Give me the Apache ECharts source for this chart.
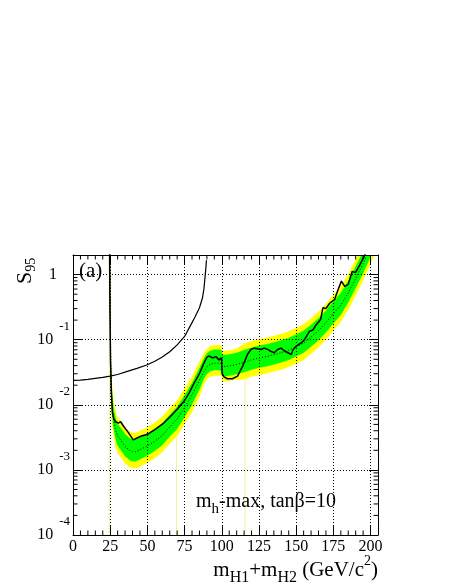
<!DOCTYPE html>
<html>
<head>
<meta charset="utf-8">
<script src="https://cdn.jsdelivr.net/npm/echarts@6/dist/echarts.min.js"></script>
<style>
  html, body { margin: 0; padding: 0; background: #fff; }
  #main { width: 454px; height: 588px; }
</style>
</head>
<body>
<div id="main"></div>
<script>
// all y values below are log10(S95)
const bandX = [24.7, 25, 25.5, 26, 27, 28.5, 30, 32, 35, 38, 40, 42, 45, 50, 55, 60, 65, 70, 75, 80,
    85, 88, 90, 92, 95, 98, 99.9, 100.1, 103, 106, 110, 115, 120, 125, 130, 135, 140, 145, 150, 155,
    160, 165, 170, 175, 180, 185, 190, 195, 200, 205];
const medianLog = [0.5, -0.3, -1.6, -1.92, -2.18, -2.38, -2.48, -2.54, -2.64, -2.70, -2.72, -2.72, -2.69, -2.63, -2.56, -2.47, -2.34, -2.22, -2.04, -1.85,
    -1.62, -1.49, -1.42, -1.38, -1.36, -1.36, -1.37, -1.41, -1.41, -1.40, -1.38, -1.35, -1.31, -1.28, -1.26, -1.23, -1.20, -1.16, -1.11, -1.05,
    -0.96, -0.86, -0.74, -0.60, -0.47, -0.28, -0.06, 0.17, 0.42, 0.7];
const greenHi = [0.7, 0.1, -1.3, -1.7, -1.99, -2.19, -2.29, -2.35, -2.45, -2.51, -2.53, -2.53, -2.50, -2.44, -2.37, -2.28, -2.15, -2.03, -1.85, -1.66,
    -1.43, -1.28, -1.21, -1.17, -1.15, -1.15, -1.16, -1.23, -1.23, -1.22, -1.20, -1.16, -1.12, -1.09, -1.07, -1.04, -1.01, -0.97, -0.92, -0.86,
    -0.77, -0.67, -0.55, -0.41, -0.28, -0.09, 0.13, 0.36, 0.61, 0.89];
const greenLo = [0.5, -0.6, -1.8, -2.1, -2.33, -2.53, -2.63, -2.69, -2.79, -2.85, -2.87, -2.87, -2.84, -2.78, -2.71, -2.62, -2.49, -2.37, -2.19, -2.00,
    -1.77, -1.60, -1.53, -1.49, -1.47, -1.47, -1.48, -1.56, -1.56, -1.55, -1.53, -1.50, -1.46, -1.43, -1.41, -1.38, -1.35, -1.31, -1.26, -1.20,
    -1.11, -1.01, -0.89, -0.75, -0.62, -0.43, -0.21, 0.02, 0.27, 0.55];
const yellowHi = [0.7, 0.3, -1.15, -1.6, -1.89, -2.09, -2.19, -2.25, -2.35, -2.41, -2.43, -2.43, -2.40, -2.34, -2.27, -2.18, -2.05, -1.93, -1.75, -1.56,
    -1.33, -1.21, -1.14, -1.10, -1.08, -1.08, -1.09, -1.17, -1.17, -1.16, -1.14, -1.06, -1.02, -0.99, -0.97, -0.94, -0.91, -0.87, -0.82, -0.76,
    -0.67, -0.57, -0.45, -0.31, -0.18, 0.01, 0.23, 0.46, 0.71, 0.99];
const yellowLo = [0.5, -0.9, -2.0, -2.25, -2.44, -2.64, -2.74, -2.80, -2.90, -2.96, -2.98, -2.98, -2.95, -2.89, -2.82, -2.73, -2.60, -2.48, -2.30, -2.11,
    -1.88, -1.68, -1.61, -1.57, -1.55, -1.55, -1.56, -1.64, -1.64, -1.63, -1.61, -1.61, -1.57, -1.54, -1.52, -1.49, -1.46, -1.42, -1.37, -1.31,
    -1.22, -1.12, -1.00, -0.86, -0.73, -0.54, -0.32, -0.09, 0.16, 0.44];

// observed limit
const obsX = [24.6, 24.8, 25.2, 25.8, 26.5, 27.5, 28.5, 30.5, 32, 34, 37, 40.5, 43, 46, 49, 51, 55, 61, 65.5, 70,
    74.5, 78, 81.3, 85, 88, 90, 91.4, 93.7, 96, 98.2, 99.8, 100.2, 101.5, 103.8, 107.2, 110.6, 112.8, 114, 117.4, 119.6,
    121.8, 124, 126.4, 128.5, 130.9, 133, 135.3, 137.5, 139.9, 142, 144.4, 146.6, 148, 150, 153.4, 155.6, 159, 161.3, 163.5, 166.4,
    168, 170, 172.5, 175.9, 178.2, 180.4, 182.6, 185, 187.6, 189.9, 192.8, 195.7, 197];
const obsLog = [0.4, -0.5, -1.3, -1.82, -2.12, -2.22, -2.26, -2.28, -2.26, -2.33, -2.42, -2.54, -2.51, -2.48, -2.46, -2.44, -2.38, -2.28, -2.18, -2.07,
    -1.95, -1.82, -1.67, -1.52, -1.36, -1.27, -1.25, -1.28, -1.26, -1.31, -1.28, -1.52, -1.57, -1.60, -1.60, -1.56, -1.46, -1.41, -1.22, -1.15,
    -1.13, -1.14, -1.15, -1.13, -1.15, -1.18, -1.20, -1.15, -1.13, -1.17, -1.20, -1.23, -1.15, -1.10, -1.05, -1.0, -0.87, -0.85, -0.77, -0.69,
    -0.51, -0.52, -0.44, -0.38, -0.23, -0.10, -0.18, -0.15, 0.05, 0.03, 0.15, 0.28, 0.36];

// model prediction curve
const thX = [0, 5, 10, 15, 20, 25, 30, 36, 43, 50, 55, 60, 65, 70, 75, 79, 82, 85, 87, 88, 88.7, 89.3, 89.7];
const thLog = [-1.625, -1.62, -1.61, -1.595, -1.58, -1.56, -1.535, -1.49, -1.44, -1.385, -1.33, -1.265, -1.185, -1.08, -0.95, -0.78, -0.65, -0.51, -0.36, -0.22, -0.05, 0.1, 0.22];

// faint yellow slivers of the band
const faintX = [24.4, 69.6, 115.6];
const faintTopLog = [0.4, -2.5, -1.62];

const xMin = 0, xMax = 205;
const yMin = 1e-4, yMax = 2;
const xMinorTicks = [5, 10, 15, 20, 30, 35, 40, 45, 55, 60, 65, 70, 80, 85, 90, 95, 105, 110, 115, 120,
    130, 135, 140, 145, 155, 160, 165, 170, 180, 185, 190, 195];
const decades = [-4, -3, -2, -1, 0];
const minorMult = [2, 3, 4, 5, 6, 7, 8, 9];

const serif = 'Liberation Serif';
const toVal = function (l) { return Math.pow(10, l); };

let yMinorTicks = [];
decades.forEach(function (d) {
    minorMult.forEach(function (m) {
        const v = m * Math.pow(10, d);
        if (v < yMax) yMinorTicks.push(v);
    });
});

function bandSeries(lo, hi, color) {
    return {
        type: 'custom',
        z: 1,
        clip: true,
        silent: true,
        data: [[100, 0.01]],
        renderItem: function (params, api) {
            let pts = [];
            for (let i = 0; i < bandX.length; i++) pts.push(api.coord([bandX[i], toVal(hi[i])]));
            for (let i = bandX.length - 1; i >= 0; i--) pts.push(api.coord([bandX[i], toVal(lo[i])]));
            return { type: 'polygon', shape: { points: pts }, style: { fill: color } };
        }
    };
}

function lineData(xs, ls) {
    return xs.map(function (x, i) { return [x, toVal(ls[i])]; });
}

let myChart = echarts.init(document.getElementById('main'), null, { renderer: 'canvas' });

const axisCommon = {
    axisLine: { show: true, onZero: false, lineStyle: { color: '#000', width: 1 } },
    axisTick: { show: true, inside: true, length: 9, lineStyle: { color: '#000', width: 1 } }
};

let option = {
    animation: false,
    backgroundColor: '#fff',
    grid: { left: 73, top: 255, width: 305, height: 280, show: false },
    xAxis: [
        Object.assign({
            type: 'value', min: xMin, max: xMax, interval: 25, position: 'bottom', z: 2,
            splitLine: { show: true, lineStyle: { color: '#000', type: [1, 2], width: 1 } },
            axisLabel: {
                margin: 4, color: '#000', fontFamily: serif, fontSize: 16,
                formatter: function (v) { return v % 25 === 0 ? String(v) : ''; }
            }
        }, axisCommon),
        Object.assign({
            type: 'value', min: xMin, max: xMax, interval: 25, position: 'top', z: 2,
            splitLine: { show: false }, axisLabel: { show: false }
        }, axisCommon)
    ],
    yAxis: [
        Object.assign({
            type: 'log', logBase: 10, min: yMin, max: yMax, position: 'left', z: 2,
            splitLine: { show: true, lineStyle: { color: '#000', type: [1, 2], width: 1 } },
            axisLabel: {
                margin: 3, color: '#000', fontFamily: serif, showMaxLabel: false,
                formatter: function (v) {
                    const e = Math.round(Math.log10(v));
                    if (Math.abs(v / Math.pow(10, e) - 1) > 1e-6) return '';
                    if (e === 0) return '{one|1}';
                    return '{b|10}{s|' + e + '}';
                },
                rich: {
                    b: { fontFamily: serif, fontSize: 16, lineHeight: 40, verticalAlign: 'middle', color: '#000' },
                    s: { fontFamily: serif, fontSize: 13, verticalAlign: 'top', padding: [0, 0, 0, 6], color: '#000' },
                    one: { fontFamily: serif, fontSize: 16, padding: [0, 13, 0, 0], color: '#000' }
                }
            }
        }, axisCommon),
        Object.assign({
            type: 'log', logBase: 10, min: yMin, max: yMax, position: 'right', z: 2,
            splitLine: { show: false }, axisLabel: { show: false }
        }, axisCommon)
    ],
    graphic: [
        {
            type: 'text', x: 79, y: 271, z: 10,
            style: { text: '(a)', font: '21px "Liberation Serif"', fill: '#000', verticalAlign: 'middle' }
        },
        {
            type: 'text', x: 196, y: 502, z: 10,
            style: {
                text: '{m|m}{sub|h}{m|-max, tanβ=10}', verticalAlign: 'middle', fill: '#000',
                rich: {
                    m: { fontFamily: serif, fontSize: 20, lineHeight: 30, verticalAlign: 'middle' },
                    sub: { fontFamily: serif, fontSize: 15, verticalAlign: 'bottom' }
                }
            }
        },
        {
            type: 'text', x: 378, y: 570, z: 10,
            style: {
                text: '{m|m}{sub|H1}{m|+m}{sub|H2}{m| (GeV/c}{sup|2}{m|)}', align: 'right', verticalAlign: 'middle', fill: '#000',
                rich: {
                    m: { fontFamily: serif, fontSize: 21, lineHeight: 32, verticalAlign: 'middle' },
                    sub: { fontFamily: serif, fontSize: 16, verticalAlign: 'bottom' },
                    sup: { fontFamily: serif, fontSize: 14, verticalAlign: 'top' }
                }
            }
        },
        {
            type: 'text', x: 38, y: 284, rotation: Math.PI / 2, z: 10,
            style: {
                text: '{m|S}{sub|95}', align: 'left', verticalAlign: 'bottom', fill: '#000',
                rich: {
                    m: { fontFamily: serif, fontSize: 22, lineHeight: 26, verticalAlign: 'middle' },
                    sub: { fontFamily: serif, fontSize: 14, verticalAlign: 'bottom' }
                }
            }
        }
    ],
    series: [
        bandSeries(yellowLo, yellowHi, '#ffff00'),
        bandSeries(greenLo, greenHi, '#00ff00'),
        {
            type: 'custom', z: 1, clip: true, silent: true,
            data: faintX.map(function (x, i) { return [x, toVal(faintTopLog[i])]; }),
            renderItem: function (params, api) {
                const a = api.coord([api.value(0), yMin]);
                const b = api.coord([api.value(0), api.value(1)]);
                return { type: 'line', shape: { x1: a[0], y1: a[1], x2: b[0], y2: b[1] }, style: { stroke: '#f2f2a0', lineWidth: 1 } };
            }
        },
        {
            // minor ticks on the log axes (left and right)
            type: 'custom', z: 3, silent: true,
            data: yMinorTicks.map(function (v) { return [xMin, v]; }),
            renderItem: function (params, api) {
                const l = api.coord([xMin, api.value(1)]);
                const r = api.coord([xMax, api.value(1)]);
                return {
                    type: 'group', children: [
                        { type: 'line', shape: { x1: l[0], y1: l[1], x2: l[0] + 4.5, y2: l[1] }, style: { stroke: '#000', lineWidth: 1 } },
                        { type: 'line', shape: { x1: r[0], y1: r[1], x2: r[0] - 4.5, y2: r[1] }, style: { stroke: '#000', lineWidth: 1 } }
                    ]
                };
            }
        },
        {
            // minor ticks on the x axes (bottom and top)
            type: 'custom', z: 3, silent: true,
            data: xMinorTicks.map(function (x) { return [x, yMin]; }),
            renderItem: function (params, api) {
                const b = api.coord([api.value(0), yMin]);
                const t = api.coord([api.value(0), yMax]);
                return {
                    type: 'group', children: [
                        { type: 'line', shape: { x1: b[0], y1: b[1], x2: b[0], y2: b[1] - 4.5 }, style: { stroke: '#000', lineWidth: 1 } },
                        { type: 'line', shape: { x1: t[0], y1: t[1], x2: t[0], y2: t[1] + 4.5 }, style: { stroke: '#000', lineWidth: 1 } }
                    ]
                };
            }
        },
        {
            name: 'median', type: 'line', z: 3, showSymbol: false, symbol: 'none', silent: true,
            data: lineData(bandX, medianLog),
            lineStyle: { color: '#000', width: 1, type: [1, 2] }
        },
        {
            name: 'observed', type: 'line', z: 4, showSymbol: false, symbol: 'none', silent: true,
            data: lineData(obsX, obsLog),
            lineStyle: { color: '#000', width: 1.5 }
        },
        {
            name: 'theory', type: 'line', z: 4, showSymbol: false, symbol: 'none', silent: true,
            data: lineData(thX, thLog),
            lineStyle: { color: '#000', width: 1.2 }
        }
    ]
};

myChart.setOption(option);
</script>
</body>
</html>
